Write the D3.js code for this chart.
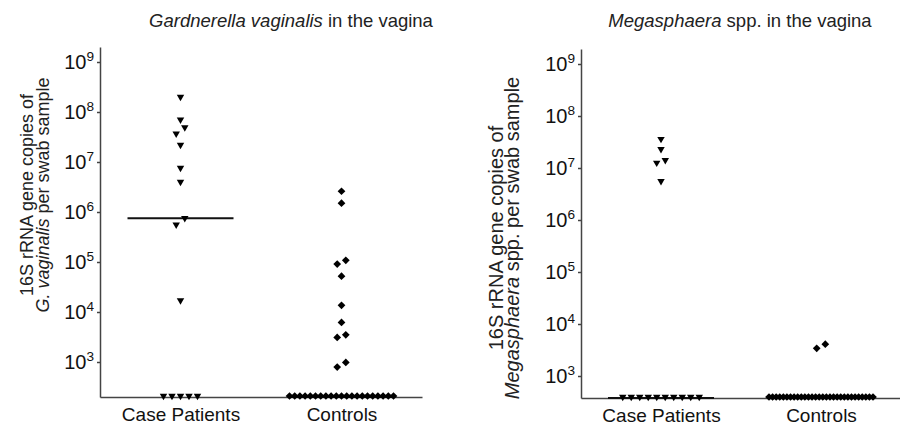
<!DOCTYPE html>
<html>
<head>
  <meta charset="utf-8">
  <style>
  body { margin: 0; background: #fff; }
  svg { font-family: "Liberation Sans", Arial, sans-serif; }
  .axis .domain, .axis line { stroke: #444; stroke-width: 1.5px; }
  .axis text { fill: #111; }
  </style>
  <script src="https://d3js.org/d3.v7.min.js"></script>
</head>
<body>
  <script>
  // 16S rRNA gene copies per swab sample; 0 = not detected (drawn on the axis)
  var groups = ["Case Patients", "Controls"];
  var exponents = [3, 4, 5, 6, 7, 8, 9];

  var gvCases = [2.0e8, 7.0e7, 4.9e7, 3.7e7, 2.2e7, 7.6e6, 4.0e6, 7.5e5, 5.6e5, 1.7e4,
                 0, 0, 0, 0, 0];
  var gvControls = [2.6e6, 1.5e6, 1.08e5, 9.1e4, 5.2e4, 1.36e4, 6.2e3, 3.5e3, 3.1e3, 980, 790,
                    0, 0, 0, 0, 0, 0, 0, 0, 0, 0, 0, 0, 0, 0, 0, 0, 0, 0, 0, 0, 0];
  var msCases = [3.6e7, 2.3e7, 1.42e7, 1.26e7, 5.6e6,
                 0, 0, 0, 0, 0, 0, 0, 0, 0, 0];
  var msControls = [4.1e3, 3.4e3,
                    0, 0, 0, 0, 0, 0, 0, 0, 0, 0, 0, 0, 0, 0, 0, 0, 0, 0, 0, 0, 0, 0, 0, 0, 0, 0, 0, 0, 0, 0];

  var svg = d3.select("body").append("svg")
      .attr("width", 900)
      .attr("height", 429);

  // spread points horizontally: clusters of close values get small offsets,
  // the undetected row is laid out as an even line
  function layout(values, y, cx) {
    var pts = values.map(function(v) { return {v: v}; });
    var zeros = pts.filter(function(p) { return p.v === 0; });
    var pos = pts.filter(function(p) { return p.v > 0; })
        .sort(function(a, b) { return b.v - a.v; });
    var u = 4.3;
    var clusters = [];
    pos.forEach(function(p, i) {
      p.y = y(p.v);
      if (i > 0 && p.y - pos[i - 1].y < 9) clusters[clusters.length - 1].push(p);
      else clusters.push([p]);
    });
    clusters.forEach(function(c) {
      var offs = [];
      var k = 1;
      if (c.length % 2 === 1) offs.push(0);
      while (offs.length < c.length) { offs.push(k * u, -k * u); k++; }
      c.forEach(function(p, i) { p.x = cx + offs[i]; });
    });
    var step = Math.min(8.5, 104 / Math.max(1, zeros.length - 1));
    zeros.forEach(function(p, i) {
      p.y = y.range()[0] - 1;
      p.x = cx + (i - (zeros.length - 1) / 2) * step;
    });
    return pts;
  }

  function drawPanel(o) {
    var g = svg.append("g");

    var x = d3.scalePoint().domain(groups).range(o.xRange).padding(0.5);
    var y = d3.scaleLog().domain(o.yDomain).range(o.yRange);

    g.append("g")
        .attr("class", "axis")
        .attr("transform", "translate(" + o.xRange[0] + ",0)")
        .call(d3.axisLeft(y)
          .tickValues(exponents.map(function(e) { return Math.pow(10, e); }))
          .tickSize(3).tickSizeOuter(0).tickPadding(3)
          .tickFormat(function() { return ""; }))
        .selectAll(".tick text")
        .attr("font-size", o.tickFont)
        .each(function(d) {
          var t = d3.select(this);
          t.append("tspan").text("10");
          t.append("tspan").attr("font-size", "0.68em").attr("dy", "-0.55em")
            .text(Math.round(Math.log10(d)));
        });

    g.append("g")
        .attr("class", "axis")
        .attr("transform", "translate(0," + o.yRange[0] + ")")
        .call(d3.axisBottom(x).tickSize(0).tickSizeOuter(0).tickPadding(11))
        .selectAll("text")
        .attr("font-size", 19);

    var series = [o.cases, o.controls];
    var shapes = [
      d3.symbol(d3.symbolTriangle, 24),
      d3.symbol(d3.symbolSquare, 30)
    ];
    var rot = [180, 45];

    series.forEach(function(vals, si) {
      var cx = x(groups[si]);
      var med = d3.median(vals);
      var my = med > 0 ? y(med) : o.yRange[0];
      g.append("line")
          .attr("x1", cx - 53).attr("x2", cx + 53)
          .attr("y1", my).attr("y2", my)
          .attr("stroke", "#111")
          .attr("stroke-width", 2.2);

      g.selectAll(null)
          .data(layout(vals, y, cx))
          .enter().append("path")
          .attr("d", shapes[si])
          .attr("transform", function(d) {
            return "translate(" + d.x + "," + d.y + ") rotate(" + rot[si] + ")";
          })
          .attr("fill", "#000");
    });

    var title = g.append("text")
        .attr("x", o.titleX).attr("y", 27)
        .attr("text-anchor", "middle")
        .attr("font-size", 18.5)
        .attr("fill", "#222");
    title.append("tspan").attr("font-style", "italic").text(o.titleItalic);
    title.append("tspan").text(o.titleRest);

    var lab = g.append("text")
        .attr("transform", "translate(" + o.labelX + "," + o.labelY + ") rotate(-90)")
        .attr("text-anchor", "middle")
        .attr("font-size", o.labelFont)
        .attr("fill", "#222");
    lab.append("tspan").attr("x", 0).attr("y", 0).text("16S rRNA gene copies of");
    var l2 = lab.append("tspan").attr("x", 0).attr("y", 16);
    l2.append("tspan").attr("font-style", "italic").text(o.labelItalic);
    l2.append("tspan").text(o.labelRest);
  }

  drawPanel({
    cases: gvCases, controls: gvControls,
    xRange: [100, 422], yRange: [397, 47],
    yDomain: [Math.pow(10, 2.3), Math.pow(10, 9.3)],
    tickFont: 20,
    titleX: 291, titleItalic: "Gardnerella vaginalis", titleRest: " in the vagina",
    labelX: 33, labelY: 195, labelFont: 18,
    labelItalic: "G. vaginalis", labelRest: " per swab sample"
  });

  drawPanel({
    cases: msCases, controls: msControls,
    xRange: [581, 901], yRange: [398, 49],
    yDomain: [Math.pow(10, 2.577), Math.pow(10, 2.577 + 349 / 52)],
    tickFont: 20,
    titleX: 740, titleItalic: "Megasphaera", titleRest: " spp. in the vagina",
    labelX: 503, labelY: 238, labelFont: 20,
    labelItalic: "Megasphaera", labelRest: " spp. per swab sample"
  });
  </script>
</body>
</html>
